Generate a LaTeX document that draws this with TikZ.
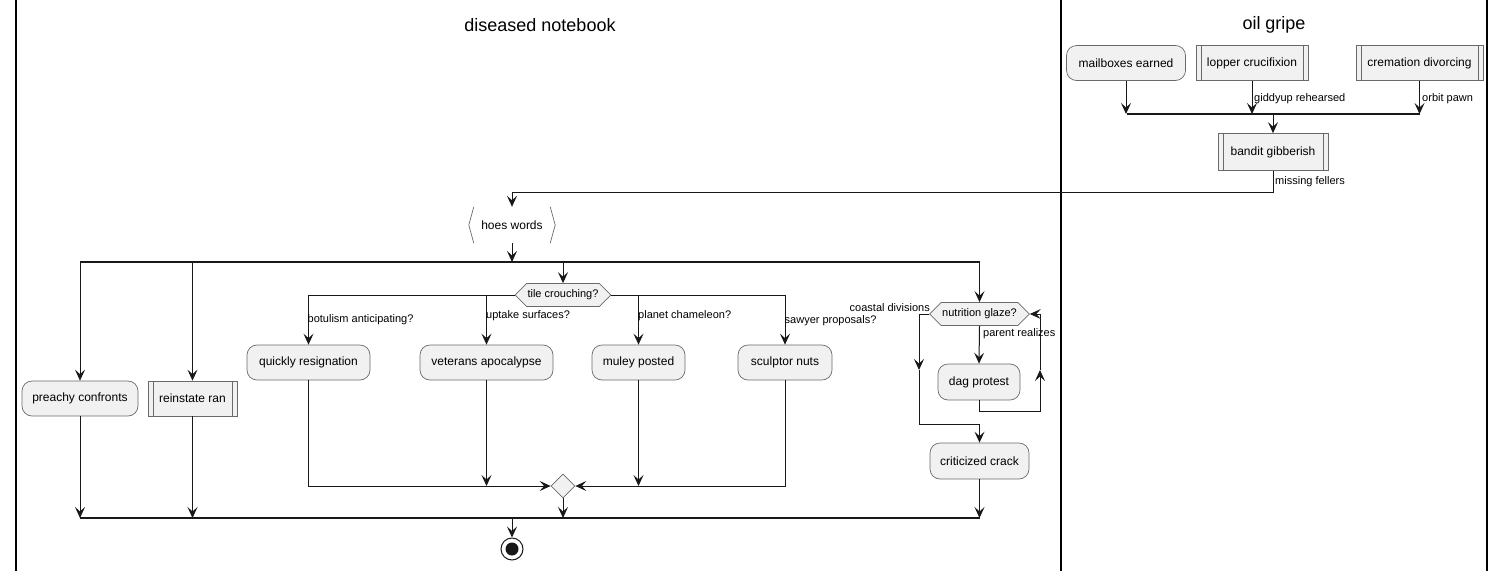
\documentclass[tikz,border=0pt]{standalone}
\usepackage{fontspec}
\setmainfont{Liberation Sans}
\usetikzlibrary{arrows.meta,shapes.geometric,shapes.symbols}
\definecolor{boxfill}{HTML}{F1F1F1}
\definecolor{boxline}{HTML}{6A6A6A}
\definecolor{ink}{HTML}{181818}
\begin{document}
\begin{tikzpicture}[x=1pt,y=-1pt,
 every node/.style={font=\fontsize{12}{14}\selectfont, text=black, inner sep=0pt},
 act/.style={rectangle, rounded corners=10pt, draw=boxline, line width=0.7pt, fill=boxfill, minimum height=35pt},
 sub/.style={rectangle, draw=boxline, line width=0.7pt, fill=boxfill, minimum height=35pt,
   path picture={\draw[boxline, line width=0.7pt] ([xshift=5pt]path picture bounding box.north west) -- ([xshift=5pt]path picture bounding box.south west);
                 \draw[boxline, line width=0.7pt] ([xshift=-5pt]path picture bounding box.north east) -- ([xshift=-5pt]path picture bounding box.south east);}},
 hexa/.style={signal, signal to=west and east, draw=boxline, fill=boxfill, line width=0.7pt, minimum height=23pt, font=\fontsize{11}{13}\selectfont, inner xsep=1pt},
 lbl/.style={font=\fontsize{11}{13}\selectfont, anchor=west},
 flow/.style={draw=ink, line width=1pt, -{Stealth[length=11pt,width=10pt,inset=4.5pt]}},
 plain/.style={draw=ink, line width=1pt},
 bar/.style={draw=ink, line width=2.2pt},
 lane/.style={draw=black, line width=1.5pt},
 title/.style={font=\fontsize{18}{21}\selectfont}
]
\useasboundingbox (0,0) rectangle (1506,571);
% swimlanes
\draw[lane] (16,0) -- (16,571);
\draw[lane] (1061,0) -- (1061,571);
\draw[lane] (1487,0) -- (1487,571);
\node[title] (t1) at (540,25) {diseased notebook};
\node[title] (t2) at (1274,25) {oil gripe};

% right lane
\node[act, minimum width=119pt] (mail) at (1126,63) {mailboxes earned};
\node[sub, minimum width=112pt] (lop) at (1252,63) {lopper crucifixion};
\node[sub, minimum width=127pt] (crem) at (1419.5,63) {cremation divorcing};
\coordinate (b1a) at (1127,114);
\coordinate (b1m) at (1273,114);
\coordinate (b1b) at (1420,114);
\draw[bar] (b1a) -- (b1b);
\draw[flow] (mail.south) -- (mail.south |- b1a);
\draw[flow] (lop.south) -- (lop.south |- b1a);
\draw[flow] (crem.south) -- (crem.south |- b1a);
\node[lbl] (l1) at (1254,99) {giddyup rehearsed};
\node[lbl] (l2) at (1422,99) {orbit pawn};
\node[sub, minimum width=110pt, minimum height=37pt] (bandit) at (1273,152) {bandit gibberish};
\draw[flow] (b1m) -- (bandit.north);
\node[lbl] (l3) at (1275,182) {missing fellers};

% hoes words
\node[minimum width=86pt, minimum height=36pt] (hoes) at (512,225) {hoes words};
\draw[boxline, line width=0.7pt] ([xshift=5pt]hoes.north west) -- (hoes.west) -- ([xshift=5pt]hoes.south west);
\draw[boxline, line width=0.7pt] ([xshift=-5pt]hoes.north east) -- (hoes.east) -- ([xshift=-5pt]hoes.south east);
\draw[flow] (bandit.south) -- (1273,192) -- (512,192) -- (hoes.north);

% fork bar
\coordinate (b2a) at (80,262);
\coordinate (b2b) at (980,262);
\draw[bar] (b2a) -- (b2b);
\draw[flow] (hoes.south) -- (512,262);

\node[act, minimum width=116pt] (preachy) at (80,398.5) {preachy confronts};
\node[sub, minimum width=89pt] (rein) at (192.5,398.5) {reinstate ran};
\node[hexa] (tile) at (563,295) {tile crouching?};
\node[hexa] (nut) at (979.5,314) {nutrition glaze?};
\draw[flow] (80,262) -- (preachy.north);
\draw[flow] (192.5,262) -- (rein.north);
\draw[flow] (563,262) -- (tile.north);
\draw[flow] (979.5,262) -- (nut.north);

% tile crouching branches
\node[act, minimum width=123pt] (qr) at (308.5,362.5) {quickly resignation};
\node[act, minimum width=133pt] (ver) at (486.5,362.5) {veterans apocalypse};
\node[act, minimum width=93pt] (mul) at (638.5,362.5) {muley posted};
\node[act, minimum width=94pt] (scu) at (785,362.5) {sculptor nuts};
\draw[plain] (tile.west) -- (308.5,295);
\draw[plain] (tile.east) -- (785,295);
\draw[flow] (308.5,295) -- (qr.north);
\draw[flow] (486.5,295) -- (ver.north);
\draw[flow] (638.5,295) -- (mul.north);
\draw[flow] (785,295) -- (scu.north);
\node[lbl] (lb1) at (307.5,320) {botulism anticipating?};
\node[lbl] (lb2) at (486,316) {uptake surfaces?};
\node[lbl] (lb3) at (638,316) {planet chameleon?};
\node[lbl] (lb4) at (784.5,321) {sawyer proposals?};

% merge
\node[diamond, draw=boxline, fill=boxfill, line width=0.7pt, minimum size=24pt] (md) at (563,486) {};
\draw[flow] (qr.south) -- (308.5,486) -- (md.west);
\draw[flow] (ver.south) -- (486.5,486);
\draw[flow] (mul.south) -- (638.5,486);
\draw[flow] (scu.south) -- (785,486) -- (md.east);

% nutrition glaze loop
\node[act, minimum width=82pt, minimum height=36pt] (dag) at (979,382) {dag protest};
\node[act, minimum width=99pt, minimum height=36pt] (crit) at (979.5,461) {criticized crack};
\draw[flow] (nut.south) -- (dag.north);
\node[lbl] (lp) at (983,334) {parent realizes};
\node[lbl, anchor=east] (lc) at (930,308) {coastal divisions};
\coordinate (n1) at (919,370);
\draw[flow] (nut.west) -- (919,314) -- (n1);
\draw[flow] (n1) -- (919,424) -- (979.5,424) -- (crit.north);
\coordinate (n2) at (1040,370);
\draw[flow] (dag.south) -- (979,411) -- (1040,411) -- (n2);
\draw[flow] (n2) -- (1040,314) -- (nut.east);

% join bar
\coordinate (b3a) at (80,518);
\coordinate (b3b) at (980,518);
\draw[bar] (b3a) -- (b3b);
\draw[flow] (preachy.south) -- (80,518);
\draw[flow] (rein.south) -- (192.5,518);
\draw[flow] (md.south) -- (563,518);
\draw[flow] (crit.south) -- (979.5,518);

% end
\node[circle, draw=ink, line width=1pt, fill=white, minimum size=22pt] (stop) at (512,549) {};
\node[circle, fill=ink, minimum size=13pt] (stopin) at (stop) {};
\draw[flow] (512,518) -- (stop.north);
\end{tikzpicture}
\end{document}
